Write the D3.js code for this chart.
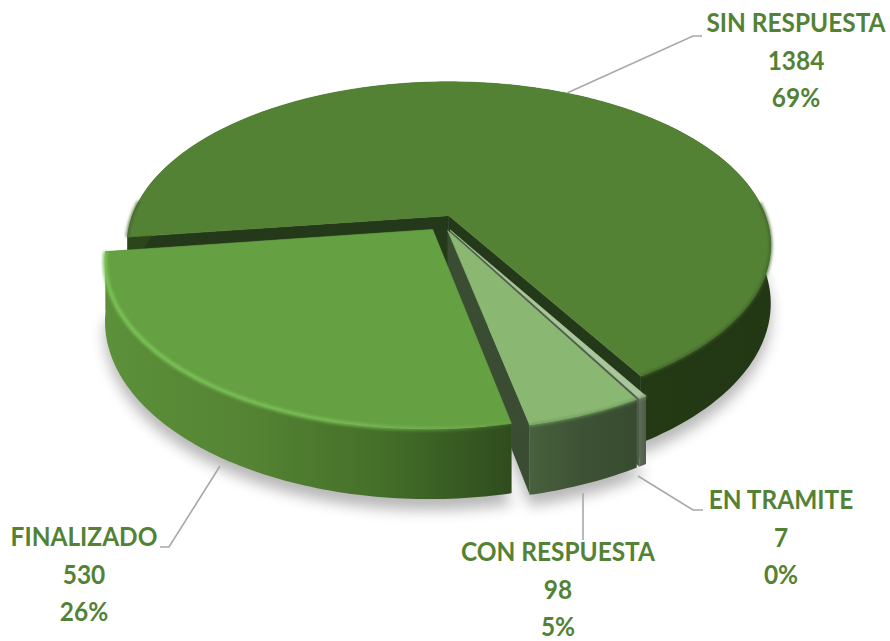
<!DOCTYPE html>
<html><head><meta charset="utf-8">
<script src="https://cdn.jsdelivr.net/npm/d3@7"></script>
<style>html,body{margin:0;padding:0;background:#fff}svg{display:block}</style></head>
<body><div id="c"></div>
<script>
const categories = ["SIN RESPUESTA", "EN TRAMITE", "CON RESPUESTA", "FINALIZADO"];
const values = [1384, 7, 98, 530];
const percents = ["69%", "0%", "5%", "26%"];

// styling per slice
const topColors = ["#548235", "#a9c79b", "#8ab873", "#65a042"];
const rimColors = ["#3d6026", "#7f8f78", "#6f9a5b", "#7cc458"];
const cutColors = ["#24391a", "#4f5c49", "#3a4d33", "#3f6327"];
const wallStops = [
  ["#2c4619", "#263e16", "#223714"],
  ["#5f6d58", "#56634f", "#505d49"],
  ["#48603d", "#3d5235", "#384b30"],
  ["#5c9039", "#558534", "#457029", "#2f4c1e"]
];
// label layout: centre x, first-line centre y, leader polyline
const labelX = [796, 781, 558, 84];
const labelY = [23, 500, 552, 537];
const leaders = [
  [[567,93],[693,36],[702,36]],
  [[638,476],[693,510],[703,510]],
  [[583,493],[583,540]],
  [[220,466],[169,547],[160,547]]
];

const W = 890, H = 641;
const X0 = 448, Y0 = 216, A = 316.7, K = 158.1, P = 0.18, D = 56.5;
const CU = -0.019, CV = 0.043, EX = 0.05;
const deg = Math.PI / 180;
const START = 262.4 * deg;

const svg = d3.select("#c").append("svg").attr("width", W).attr("height", H).attr("viewBox", [0,0,W,H]);
const defs = svg.append("defs");
const blur = (id, s) => defs.append("filter").attr("id", id)
  .attr("filterUnits", "userSpaceOnUse").attr("x", 0).attr("y", 0).attr("width", W).attr("height", H)
  .append("feGaussianBlur").attr("stdDeviation", s);
blur("shadow", 7); blur("soft", 1.6);

const arcs = d3.pie().sort(null).startAngle(START).endAngle(START + 2*Math.PI)(values);
const line = d3.line();
const rimLine = d3.line().defined(d => d[2]);

function project(u, v, z) {
  const s = 1 / (1 - P * v);
  return [X0 + A * u * s, Y0 + (K * v + D * z) * s];
}
function sliceGeom(a) {
  const mid = (a.startAngle + a.endAngle) / 2;
  const ou = CU + EX * Math.sin(mid), ov = CV - EX * Math.cos(mid);
  const t = d3.scaleLinear().domain([0,1]).range([a.startAngle, a.endAngle]);
  const n = Math.max(4, Math.ceil((a.endAngle - a.startAngle) / deg));
  const ang = d3.range(n + 1).map(i => t(i / n));
  const pt = (th, z) => project(ou + Math.sin(th), ov - Math.cos(th), z);
  return {
    apexT: project(ou, ov, 0), apexB: project(ou, ov, 1),
    topArc: ang.map(th => pt(th, 0)), botArc: ang.map(th => pt(th, 1)),
    rimArc: ang.map(th => [...pt(th, 0), Math.cos(th) < 0.1])
  };
}
const geoms = arcs.map(sliceGeom);

// ground shadow
const sh = svg.append("g").attr("filter", "url(#shadow)").attr("opacity", 0.42).attr("transform", "translate(0,11)");
geoms.forEach(g => sh.append("path").attr("fill", "#555")
  .attr("d", line([g.apexB, ...g.botArc]) + "Z"));

// painter's order: back slice first
geoms.forEach((g, i) => {
  const xs = g.topArc.map(d => d[0]);
  const x0 = d3.min(xs), x1 = d3.max(xs);
  const gid = "wall" + i;
  const lg = defs.append("linearGradient").attr("id", gid).attr("gradientUnits", "userSpaceOnUse")
    .attr("x1", x0).attr("x2", x1).attr("y1", 0).attr("y2", 0);
  wallStops[i].forEach((c, k, arr) => lg.append("stop").attr("offset", k / (arr.length - 1)).attr("stop-color", c));
  const rid = "rim" + i;
  const rg = defs.append("linearGradient").attr("id", rid).attr("gradientUnits", "userSpaceOnUse")
    .attr("x1", x0).attr("x2", x1).attr("y1", 0).attr("y2", 0);
  const fade = i === 3 ? [[0, 1], [0.55, 0.85], [1, 0.1]] : [[0, 0.8], [1, 0.8]];
  fade.forEach(f => rg.append("stop").attr("offset", f[0]).attr("stop-color", rimColors[i]).attr("stop-opacity", f[1]));

  const s = svg.append("g").attr("class", "slice");
  const last = g.topArc.length - 1;
  // cut walls
  s.append("path").attr("fill", cutColors[i])
    .attr("d", line([g.apexT, g.topArc[0], g.botArc[0], g.apexB]) + "Z");
  s.append("path").attr("fill", cutColors[i])
    .attr("d", line([g.apexT, g.topArc[last], g.botArc[last], g.apexB]) + "Z");
  // outer wall
  s.append("path").attr("fill", `url(#${gid})`)
    .attr("d", line([...g.topArc, ...g.botArc.slice().reverse()]) + "Z");
  // top face
  const face = line([g.apexT, ...g.topArc]) + "Z";
  s.append("path").attr("fill", topColors[i]).attr("stroke", topColors[i])
    .attr("stroke-width", 0.6).attr("stroke-linejoin", "round").attr("d", face);
  // bevel along the front of the rim
  s.append("path").attr("fill", "none").attr("stroke", `url(#${rid})`)
    .attr("stroke-width", i === 3 ? 4 : 3).attr("filter", "url(#soft)")
    .attr("d", rimLine(g.rimArc));
});

// leader lines
svg.append("g").selectAll("path").data(leaders).join("path")
  .attr("fill", "none").attr("stroke", "#a8a8a8").attr("stroke-width", 1.6)
  .attr("d", d => line(d));

// labels
const lab = svg.append("g").attr("font-family", "Lato, 'Open Sans', sans-serif")
  .attr("font-weight", 700).attr("font-size", 26).attr("fill", "#548235")
  .attr("text-anchor", "middle");
categories.forEach((c, i) => {
  [c, String(values[i]), percents[i]].forEach((t, k) => {
    lab.append("text")
      .attr("transform", `translate(${labelX[i]},${labelY[i] + k * 37.4}) scale(0.94,1)`)
      .attr("dy", "0.36em").text(t);
  });
});
</script></body></html>
